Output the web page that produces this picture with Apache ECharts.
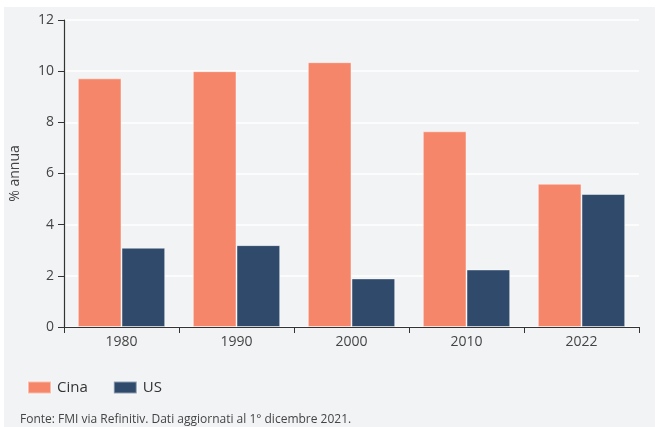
<!DOCTYPE html>
<html><head><meta charset="utf-8">
<script src="https://cdn.jsdelivr.net/npm/echarts@6/dist/echarts.min.js"></script>
<style>html,body{margin:0;padding:0;background:#fff}#c{width:660px;height:427px}</style>
</head><body><div id="c"></div>
<script>
const categories = ['1980','1990','2000','2010','2022'];
const cina = [9.72, 10.0, 10.35, 7.65, 5.6];
const us = [3.1, 3.2, 1.9, 2.25, 5.2];
const yTicks = {min:0, max:12, interval:2};
const FONT = '"Open Sans", "Noto Sans", sans-serif';
const chart = echarts.init(document.getElementById('c'));
chart.setOption({
  backgroundColor:'#fff',
  animation:false,
  textStyle:{fontFamily:FONT},
  graphic:[
    {type:'rect', z:-10, silent:true, shape:{x:4,y:7,width:651,height:420}, style:{fill:'#f2f3f5'}},
    {type:'text', left:20, top:414, silent:true, style:{text:'Fonte: FMI via Refinitiv. Dati aggiornati al 1° dicembre 2021.', font:'12px '+FONT, fill:'#444'}}
  ],
  grid:{left:64, right:21, top:20, bottom:100, containLabel:false, outerBoundsMode:'none'},
  legend:{left:22, top:375, itemWidth:23, itemHeight:12, itemGap:25, icon:'rect',
    textStyle:{fontSize:15, color:'#333', padding:[0,0,0,1]}, data:['Cina','US']},
  xAxis:{type:'category', data:categories,
    axisLine:{lineStyle:{color:'#333', width:1.2}},
    axisTick:{show:true, length:6, lineStyle:{color:'#333'}},
    axisLabel:{color:'#444', fontSize:14, margin:8}},
  yAxis:{type:'value', min:yTicks.min, max:yTicks.max, interval:yTicks.interval,
    name:'% annua', nameLocation:'middle', nameGap:42, nameRotate:90,
    nameTextStyle:{color:'#444', fontSize:14},
    axisLine:{show:true, lineStyle:{color:'#333', width:1.2}},
    axisTick:{show:true, length:6, lineStyle:{color:'#333'}},
    axisLabel:{color:'#444', fontSize:14, margin:10},
    splitLine:{lineStyle:{color:'#ffffff', width:1.5}}},
  series:[
    {name:'Cina', type:'bar', data:cina, barGap:'0%', barCategoryGap:'24%',
      itemStyle:{color:'#f5866a', borderColor:'rgba(255,255,255,0.45)', borderWidth:1}},
    {name:'US', type:'bar', data:us,
      itemStyle:{color:'#2f4a6b', borderColor:'rgba(255,255,255,0.45)', borderWidth:1}}
  ]
});
</script></body></html>
